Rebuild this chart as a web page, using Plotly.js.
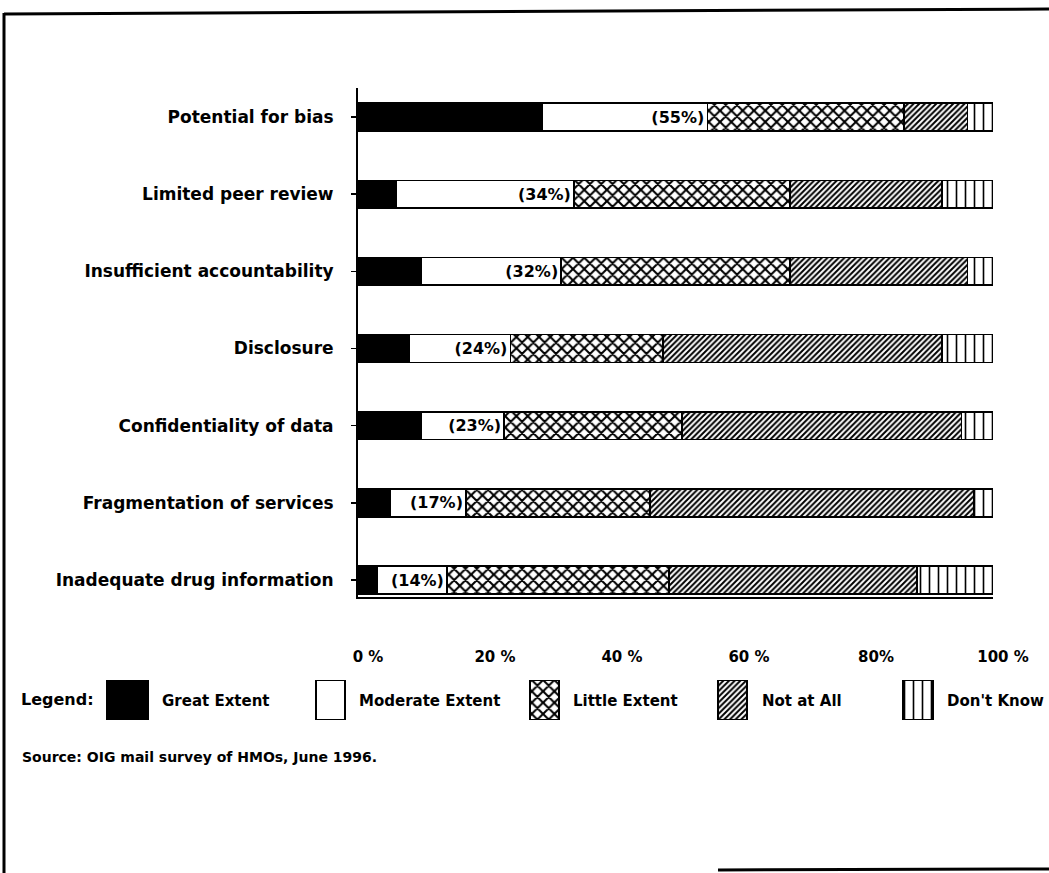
<!DOCTYPE html>
<html>
<head>
<meta charset="utf-8">
<script src="https://cdn.plot.ly/plotly-3.0.1.min.js"></script>
<style>
html,body{margin:0;padding:0;background:#fff;}
#chart{width:1049px;height:873px;}
</style>
</head>
<body>
<div id="chart"></div>
<script>
// ---- data ----
var categories = [
  "Potential for bias",
  "Limited peer review",
  "Insufficient accountability",
  "Disclosure",
  "Confidentiality of data",
  "Fragmentation of services",
  "Inadequate drug information"
];
var greatExtent    = [29, 6, 10, 8, 10, 5, 3];
var moderateExtent = [26, 28, 22, 16, 13, 12, 11];
var littleExtent   = [31, 34, 36, 24, 28, 29, 35];
var notAtAll       = [10, 24, 28, 44, 44, 51, 39];
var dontKnow       = [4, 8, 4, 8, 5, 3, 12];
var seriesNames = ["Great Extent", "Moderate Extent", "Little Extent", "Not at All", "Don't Know"];
var tickValues = [0, 20, 40, 60, 80, 100];
var tickLabels = ["0 %", "20 %", "40 %", "60 %", "80%", "100 %"];

// ---- page geometry (pixels) ----
var W = 1049, H = 873;
function px(x){ return x / W; }
function py(y){ return 1 - y / H; }
var FONT = "DejaVu Sans, Verdana, sans-serif";

var styles = [
  {color: "black", shape: ""},
  {color: "white", shape: ""},
  {color: "white", shape: "x", size: 8, solidity: 0.45},
  {color: "white", shape: "/", size: 4, solidity: 0.5},
  {color: "white", shape: "|", size: 9, solidity: 0.18}
];
var series = [greatExtent, moderateExtent, littleExtent, notAtAll, dontKnow];

function markerFor(s){
  var m = {color: s.color, line: {color: "black", width: 1.5}};
  if (s.shape) {
    m.pattern = {shape: s.shape, fgcolor: "black", bgcolor: "white",
                 size: s.size, solidity: s.solidity, fillmode: "replace"};
  }
  return m;
}

var traces = series.map(function(vals, i){
  var t = {
    type: "bar", orientation: "h",
    name: seriesNames[i],
    x: vals, y: categories,
    xaxis: "x", yaxis: "y",
    marker: markerFor(styles[i]),
    showlegend: false, hoverinfo: "x+y+name"
  };
  if (i === 1) {
    t.text = vals.map(function(v, k){ return "(" + (v + greatExtent[k]) + "%)"; });
    t.textposition = "inside";
    t.insidetextanchor = "end";
    t.constraintext = "none";
    t.textfont = {family: FONT, size: 16, color: "black", weight: "bold"};
  }
  return t;
});

// legend swatches drawn as bars on a hidden pixel axis
var legBoxLeft  = [107, 316, 530, 718, 903];
var legBoxWidth = [41, 29, 29, 29, 30];
var legTextLeft = [160, 357, 571, 760, 945];
styles.forEach(function(s, i){
  traces.push({
    type: "bar",
    x: [legBoxLeft[i] + legBoxWidth[i] / 2],
    y: [1], base: [0], width: [legBoxWidth[i]],
    xaxis: "x2", yaxis: "y2",
    marker: markerFor(s),
    showlegend: false, hoverinfo: "skip"
  });
});

var legTop = 680, legBot = 720, legMid = 701;

var annotations = [
  {text: "<b>Legend:</b>", x: px(19), y: py(legMid - 2), xref: "paper", yref: "paper",
   xanchor: "left", yanchor: "middle", showarrow: false,
   font: {family: FONT, size: 16, color: "black"}},
  {text: "<b>Source: OIG mail survey of HMOs, June 1996.</b>", x: px(20), y: py(757),
   xref: "paper", yref: "paper", xanchor: "left", yanchor: "middle", showarrow: false,
   font: {family: FONT, size: 14, color: "black"}}
];
seriesNames.forEach(function(n, i){
  annotations.push({text: "<b>" + n + "</b>", x: px(legTextLeft[i]), y: py(legMid),
    xref: "paper", yref: "paper", xanchor: "left", yanchor: "middle", showarrow: false,
    font: {family: FONT, size: 15, color: "black"}});
});

var shapes = [
  {type: "line", xref: "paper", yref: "paper", x0: px(4), x1: px(4), y0: py(13), y1: py(873),
   line: {color: "black", width: 3}},
  {type: "line", xref: "paper", yref: "paper", x0: px(4), x1: px(1049), y0: py(14), y1: py(9),
   line: {color: "black", width: 3}},
  {type: "line", xref: "paper", yref: "paper", x0: px(718), x1: px(1049), y0: py(870), y1: py(869),
   line: {color: "black", width: 3}}
];

var layout = {
  width: W, height: H,
  margin: {l: 0, r: 0, t: 0, b: 0, pad: 0},
  paper_bgcolor: "white", plot_bgcolor: "white",
  barmode: "stack", bargap: 0.64,
  font: {family: FONT, color: "black"},
  xaxis: {
    domain: [px(358), px(993)], range: [0, 100], anchor: "y",
    tickvals: tickValues, ticktext: tickLabels,
    showline: true, linecolor: "black", linewidth: 2,
    showgrid: false, zeroline: false, ticks: "",
    ticklabelstandoff: 45, ticklabelshift: 10,
    tickfont: {family: FONT, size: 15, color: "black", weight: "bold"},
    fixedrange: true
  },
  yaxis: {
    domain: [py(597), py(88)], type: "category",
    categoryarray: categories, range: [6.22, -0.376], anchor: "x",
    showline: true, linecolor: "black", linewidth: 2,
    showgrid: false, zeroline: false,
    ticks: "outside", ticklen: 5, tickwidth: 1.5, tickcolor: "black",
    ticklabelstandoff: 14,
    tickfont: {family: FONT, size: 17, color: "black", weight: "bold"},
    fixedrange: true
  },
  xaxis2: {domain: [0, 1], range: [0, W], anchor: "y2", visible: false, fixedrange: true},
  yaxis2: {domain: [py(legBot), py(legTop)], range: [0, 1], anchor: "x2", visible: false, fixedrange: true},
  annotations: annotations,
  shapes: shapes
};

Plotly.newPlot("chart", traces, layout, {displayModeBar: false, staticPlot: true});
</script>
</body>
</html>
